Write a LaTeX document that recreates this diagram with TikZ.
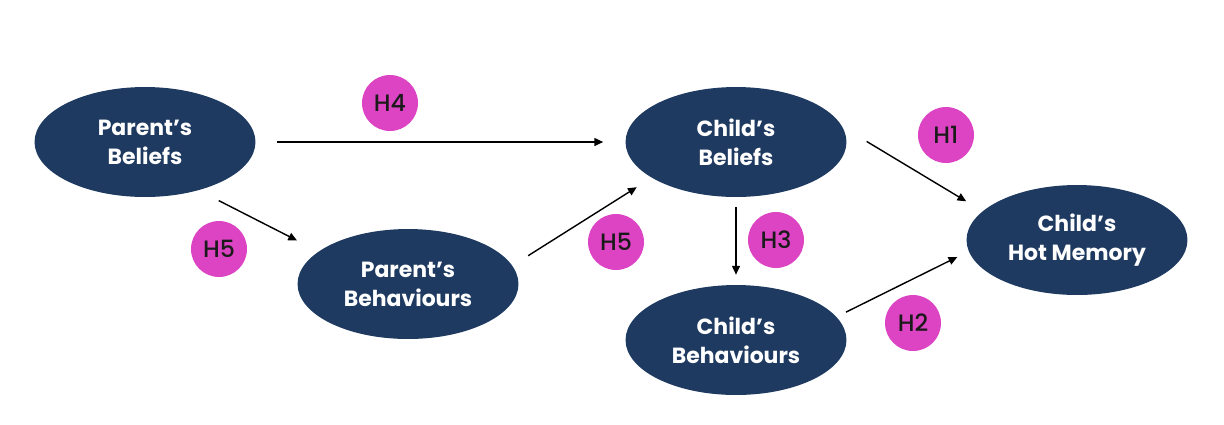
\documentclass[tikz,border=0pt]{standalone}
\usepackage{fontspec}
\setmainfont{Poppins}
\newfontfamily\hypfont{Poppins Medium}
\usetikzlibrary{shapes.geometric,arrows.meta}
\definecolor{navy}{HTML}{1F3A60}
\definecolor{pinkdot}{HTML}{DD44C4}
\definecolor{dotink}{HTML}{1A1A1A}

\begin{document}
\begin{tikzpicture}[x=0.02cm,y=-0.02cm,
  var/.style={ellipse,fill=navy,text=white,minimum width=4.42cm,minimum height=2.2cm,
    inner sep=0pt,align=center,font=\fontsize{12.5}{16.5}\selectfont\bfseries},
  hyp/.style={circle,fill=pinkdot,text=dotink,minimum size=1.12cm,inner sep=0pt,
    font=\hypfont\fontsize{13.5}{16}\selectfont},
  arr/.style={-{Triangle[length=5pt,width=4.5pt]},line width=0.8pt}]
  \useasboundingbox (0,0) rectangle (1224,424);

  \node[var] (pbel) at (145,142) {Parent’s\\Beliefs};
  \node[var] (pbeh) at (408,284) {Parent’s\\Behaviours};
  \node[var] (cbel) at (736,142) {Child’s\\Beliefs};
  \node[var] (cbeh) at (736,340) {Child’s\\Behaviours};
  \node[var] (hot)  at (1077,240) {Child’s\\Hot Memory};

  \node[hyp] (h4)  at (390,103) {H4};
  \node[hyp] (h5a) at (219,249) {H5};
  \node[hyp] (h5b) at (616,242) {H5};
  \node[hyp] (h3)  at (776,240) {H3};
  \node[hyp] (h1)  at (946,135) {H1};
  \node[hyp] (h2)  at (913,323) {H2};

  \draw[arr, shorten <=0.42cm, shorten >=0.44cm] (pbel.east) -- (cbel.west);
  \draw[arr, shorten <=0.45cm, shorten >=0.48cm] (pbel.-42) -- (pbeh.160);
  \draw[arr, shorten <=0.37cm, shorten >=0.35cm] (pbeh.10) -- (cbel.203);
  \draw[arr, shorten <=0.2cm, shorten >=0.2cm] (cbel.south) -- (cbeh.north);
  \draw[arr, shorten <=0.56cm, shorten >=0.38cm] (cbel.8) -- (hot.163);
  \draw[arr, shorten <=0.21cm, shorten >=0.25cm] (cbeh.13) -- (hot.186);
\end{tikzpicture}
\end{document}
